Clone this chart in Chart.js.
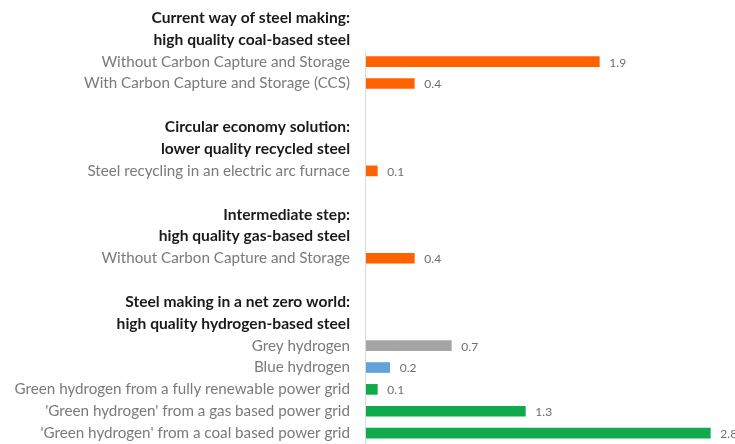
<!DOCTYPE html>
<html>
<head>
<meta charset="utf-8">
<script src="https://cdn.jsdelivr.net/npm/chart.js@4.4.0/dist/chart.umd.min.js"></script>
<style>
  body { margin: 0; background: #fff; }
</style>
</head>
<body>
<canvas id="steelChart" width="735" height="444"></canvas>
<script>
// rijen: koppen (2 regels), staven en lege scheidingsrijen
const categories = [
    'Current way of steel making:',
    'high quality coal-based steel',
    'Without Carbon Capture and Storage',
    'With Carbon Capture and Storage (CCS)',
    '',
    'Circular economy solution:',
    'lower quality recycled steel',
    'Steel recycling in an electric arc furnace',
    '',
    'Intermediate step:',
    'high quality gas-based steel',
    'Without Carbon Capture and Storage',
    '',
    'Steel making in a net zero world:',
    'high quality hydrogen-based steel',
    'Grey hydrogen',
    'Blue hydrogen',
    'Green hydrogen from a fully renewable power grid',
    "'Green hydrogen' from a gas based power grid",
    "'Green hydrogen' from a coal based power grid"
];
const rowKinds = ['head', 'head', 'item', 'item', 'gap',
    'head', 'head', 'item', 'gap',
    'head', 'head', 'item', 'gap',
    'head', 'head', 'item', 'item', 'item', 'item', 'item'];
const values = [null, null, 1.9, 0.4, null,
    null, null, 0.1, null,
    null, null, 0.4, null,
    null, null, 0.7, 0.2, 0.1, 1.3, 2.8];
const barTypes = [null, null, 'conv', 'conv', null,
    null, null, 'conv', null,
    null, null, 'conv', null,
    null, null, 'grey', 'blue', 'green', 'green', 'green'];

const typeColors = { conv: '#FF6200', grey: '#A5A5A5', blue: '#62A3DC', green: '#0FAA4B' };
const FONT = 'Lato, "Noto Sans", sans-serif';

// eigen aslijn: begint pas onder de eerste kop
const axisLinePlugin = {
    id: 'axisLine',
    afterDatasetsDraw(chart) {
        const { ctx, chartArea, scales } = chart;
        const y0 = (scales.y.getPixelForValue(1) + scales.y.getPixelForValue(2)) / 2;
        ctx.save();
        ctx.strokeStyle = '#D9D9D9';
        ctx.lineWidth = 1;
        ctx.beginPath();
        ctx.moveTo(chartArea.left + 0.5, y0);
        ctx.lineTo(chartArea.left + 0.5, chartArea.bottom);
        ctx.stroke();
        ctx.restore();
    }
};

// waardelabels rechts van de staaf
const valueLabelPlugin = {
    id: 'valueLabels',
    afterDatasetsDraw(chart) {
        const { ctx } = chart;
        const meta = chart.getDatasetMeta(0);
        ctx.save();
        ctx.font = '12px ' + FONT;
        ctx.fillStyle = '#6E6E6E';
        ctx.textAlign = 'left';
        ctx.textBaseline = 'middle';
        meta.data.forEach((bar, i) => {
            if (values[i] == null) return;
            ctx.fillText(values[i].toFixed(1), bar.x + 10, bar.y + 1);
        });
        ctx.restore();
    }
};

new Chart(document.getElementById('steelChart'), {
    type: 'bar',
    data: {
        labels: categories,
        datasets: [{
            data: values,
            backgroundColor: barTypes.map(t => t ? typeColors[t] : 'transparent'),
            barThickness: 10,
            borderWidth: 0
        }]
    },
    options: {
        indexAxis: 'y',
        responsive: false,
        animation: false,
        layout: { padding: { top: 7, right: 0, bottom: 0, left: 0 } },
        plugins: {
            legend: { display: false },
            tooltip: { enabled: false }
        },
        scales: {
            x: {
                display: false,
                min: 0,
                max: 3
            },
            y: {
                grid: { display: false, drawTicks: false },
                border: { display: false },
                afterFit(scale) {
                    scale.width = 365;
                    scale.paddingTop = 0;
                    scale.paddingBottom = 0;
                },
                ticks: {
                    padding: 15,
                    autoSkip: false,
                    color: ctx => rowKinds[ctx.index] === 'head' ? '#1A1A1A' : '#7A7A7A',
                    font: ctx => rowKinds[ctx.index] === 'head'
                        ? { family: FONT, size: 15.6, weight: 'bold' }
                        : { family: FONT, size: 15.2 }
                }
            }
        }
    },
    plugins: [axisLinePlugin, valueLabelPlugin]
});
</script>
</body>
</html>
